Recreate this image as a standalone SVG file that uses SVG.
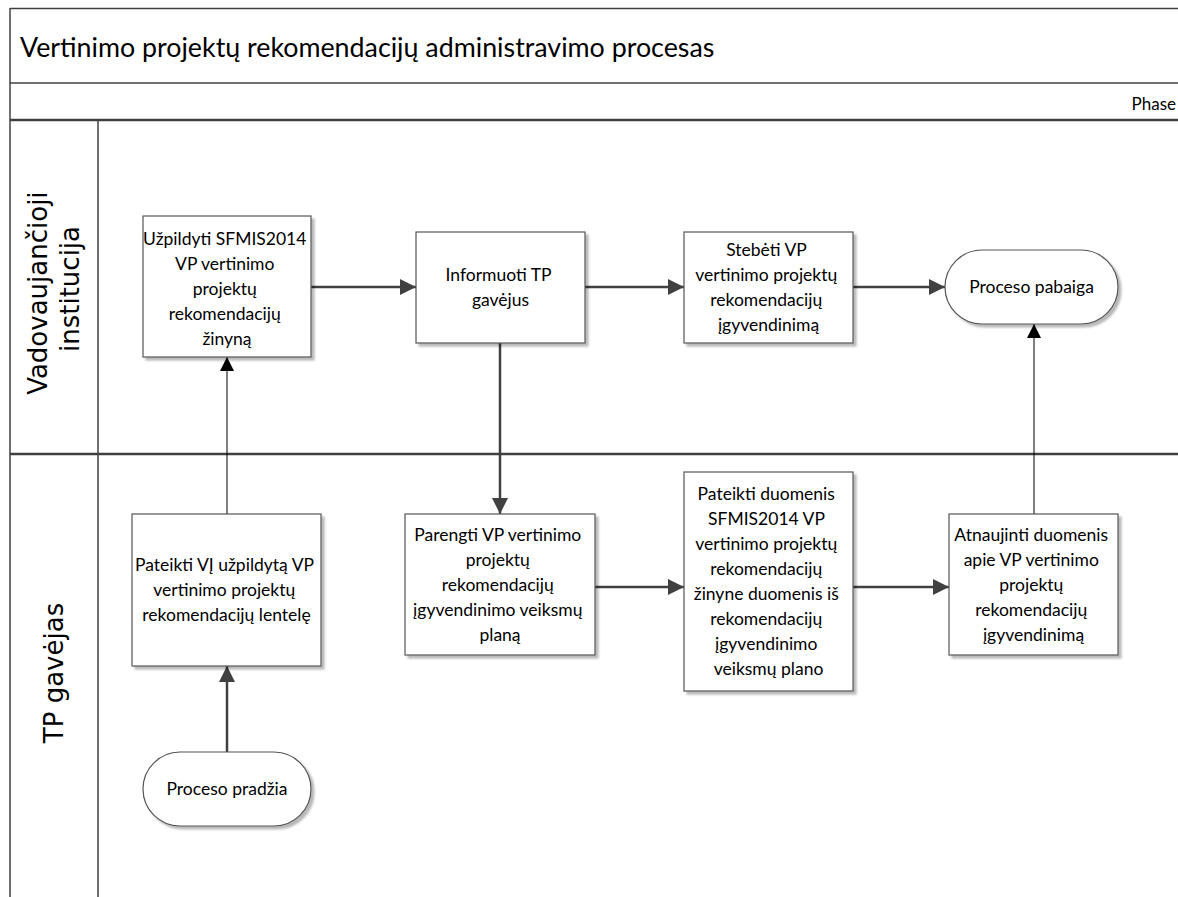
<svg xmlns="http://www.w3.org/2000/svg" width="1178" height="897" viewBox="0 0 1178 897">
  <style>
    .frame { fill: none; stroke: #404040; stroke-width: 1.5; }
    .frame-bold { fill: none; stroke: #404040; stroke-width: 2.5; }
    .box { fill: #ffffff; stroke: #555555; stroke-width: 1.2; filter: url(#shadow); }
    .label { font-family: Lato, "Open Sans", sans-serif; font-size: 17.5px; fill: #000000; text-anchor: middle; }
    .title { font-family: Lato, "Open Sans", sans-serif; font-size: 26.8px; fill: #000000; }
    .phase { font-family: Lato, "Open Sans", sans-serif; font-size: 17px; fill: #000000; text-anchor: end; }
    .lane { font-family: "DejaVu Sans", sans-serif; font-size: 26px; fill: #000000; text-anchor: middle; }
    .flow { fill: none; stroke: #404040; stroke-width: 2.5; marker-end: url(#arrow-bold); }
    .flow-thin { fill: none; stroke: #000000; stroke-width: 1; marker-end: url(#arrow-thin); }
  </style>
  <defs>
    <filter id="shadow" x="-10%" y="-10%" width="130%" height="130%">
      <feDropShadow dx="3" dy="3" stdDeviation="1" flood-color="#000000" flood-opacity="0.28"/>
    </filter>
    <marker id="arrow-bold" markerUnits="userSpaceOnUse" markerWidth="16" markerHeight="16" viewBox="0 0 16 16" refX="16" refY="8" orient="auto">
      <path d="M0,0 L16,8 L0,16 Z" fill="#404040"/>
    </marker>
    <marker id="arrow-thin" markerUnits="userSpaceOnUse" markerWidth="14" markerHeight="14" viewBox="0 0 14 14" refX="14" refY="7" orient="auto">
      <path d="M0,0 L14,7 L0,14 Z" fill="#000000"/>
    </marker>
  </defs>

  <rect width="1178" height="897" fill="#ffffff"/>

  <!-- pool frame, title band, phase band and lanes -->
  <g id="pool">
    <line class="frame" x1="10" y1="8.5" x2="1178" y2="8.5"/>
    <line class="frame" x1="10" y1="8" x2="10" y2="897"/>
    <line class="frame" x1="10" y1="83" x2="1178" y2="83"/>
    <line class="frame-bold" x1="10" y1="120" x2="1178" y2="120"/>
    <line class="frame" x1="98" y1="120" x2="98" y2="897"/>
    <line class="frame-bold" x1="10" y1="454" x2="1178" y2="454"/>
    <text class="title" x="20" y="57">Vertinimo projektų rekomendacijų administravimo procesas</text>
    <text class="phase" x="1176" y="110">Phase</text>
  </g>

  <g id="lane-vadovaujancioji">
    <text class="lane" transform="translate(0,289) rotate(-90)">
      <tspan x="0" y="47">Vadovaujančioji</tspan>
      <tspan x="0" y="79">institucija</tspan>
    </text>
  </g>

  <g id="lane-tp-gavejas">
    <text class="lane" transform="translate(0,673) rotate(-90)" x="0" y="63">TP gavėjas</text>
  </g>

  <!-- connectors -->
  <g id="connectors">
    <path class="flow" d="M227,752 V666"/>
    <path class="flow-thin" d="M227,514 V357"/>
    <path class="flow" d="M311,287 H416"/>
    <path class="flow" d="M585,287 H684"/>
    <path class="flow" d="M853,287 H945"/>
    <path class="flow" d="M500,343 V514"/>
    <path class="flow" d="M595,587 H684"/>
    <path class="flow" d="M853,587 H949"/>
    <path class="flow-thin" d="M1034,514 V324"/>
  </g>

  <g id="node-uzpildyti">
    <rect class="box" x="143" y="216" width="168" height="141"/>
    <text class="label">
      <tspan x="227" y="245">Užpildyti SFMIS2014</tspan>
      <tspan x="227" y="270">VP vertinimo</tspan>
      <tspan x="227" y="295">projektų</tspan>
      <tspan x="227" y="320">rekomendacijų</tspan>
      <tspan x="227" y="345">žinyną</tspan>
    </text>
  </g>

  <g id="node-informuoti">
    <rect class="box" x="416" y="232" width="169" height="111"/>
    <text class="label">
      <tspan x="500.5" y="281">Informuoti TP</tspan>
      <tspan x="500.5" y="306">gavėjus</tspan>
    </text>
  </g>

  <g id="node-stebeti">
    <rect class="box" x="684" y="232" width="169" height="111"/>
    <text class="label">
      <tspan x="768.5" y="256">Stebėti VP</tspan>
      <tspan x="768.5" y="281">vertinimo projektų</tspan>
      <tspan x="768.5" y="306">rekomendacijų</tspan>
      <tspan x="768.5" y="331">įgyvendinimą</tspan>
    </text>
  </g>

  <g id="node-pabaiga">
    <rect class="box" x="945" y="250" width="173" height="74" rx="37" ry="37"/>
    <text class="label" x="1031.5" y="293">Proceso pabaiga</text>
  </g>

  <g id="node-pateikti-vi">
    <rect class="box" x="132" y="514" width="189" height="152"/>
    <text class="label">
      <tspan x="226.5" y="571">Pateikti VĮ užpildytą VP</tspan>
      <tspan x="226.5" y="596">vertinimo projektų</tspan>
      <tspan x="226.5" y="621">rekomendacijų lentelę</tspan>
    </text>
  </g>

  <g id="node-parengti">
    <rect class="box" x="405" y="514" width="190" height="141"/>
    <text class="label">
      <tspan x="500" y="541">Parengti VP vertinimo</tspan>
      <tspan x="500" y="566">projektų</tspan>
      <tspan x="500" y="591">rekomendacijų</tspan>
      <tspan x="500" y="616">įgyvendinimo veiksmų</tspan>
      <tspan x="500" y="641">planą</tspan>
    </text>
  </g>

  <g id="node-pateikti-duomenis">
    <rect class="box" x="684" y="472" width="169" height="219"/>
    <text class="label">
      <tspan x="768.5" y="500">Pateikti duomenis</tspan>
      <tspan x="768.5" y="525">SFMIS2014 VP</tspan>
      <tspan x="768.5" y="550">vertinimo projektų</tspan>
      <tspan x="768.5" y="575">rekomendacijų</tspan>
      <tspan x="768.5" y="600">žinyne duomenis iš</tspan>
      <tspan x="768.5" y="625">rekomendacijų</tspan>
      <tspan x="768.5" y="650">įgyvendinimo</tspan>
      <tspan x="768.5" y="675">veiksmų plano</tspan>
    </text>
  </g>

  <g id="node-atnaujinti">
    <rect class="box" x="949" y="514" width="169" height="141"/>
    <text class="label">
      <tspan x="1033.5" y="541">Atnaujinti duomenis</tspan>
      <tspan x="1033.5" y="566">apie VP vertinimo</tspan>
      <tspan x="1033.5" y="591">projektų</tspan>
      <tspan x="1033.5" y="616">rekomendacijų</tspan>
      <tspan x="1033.5" y="641">įgyvendinimą</tspan>
    </text>
  </g>

  <g id="node-pradzia">
    <rect class="box" x="143" y="752" width="168" height="74" rx="37" ry="37"/>
    <text class="label" x="227" y="795">Proceso pradžia</text>
  </g>
</svg>
